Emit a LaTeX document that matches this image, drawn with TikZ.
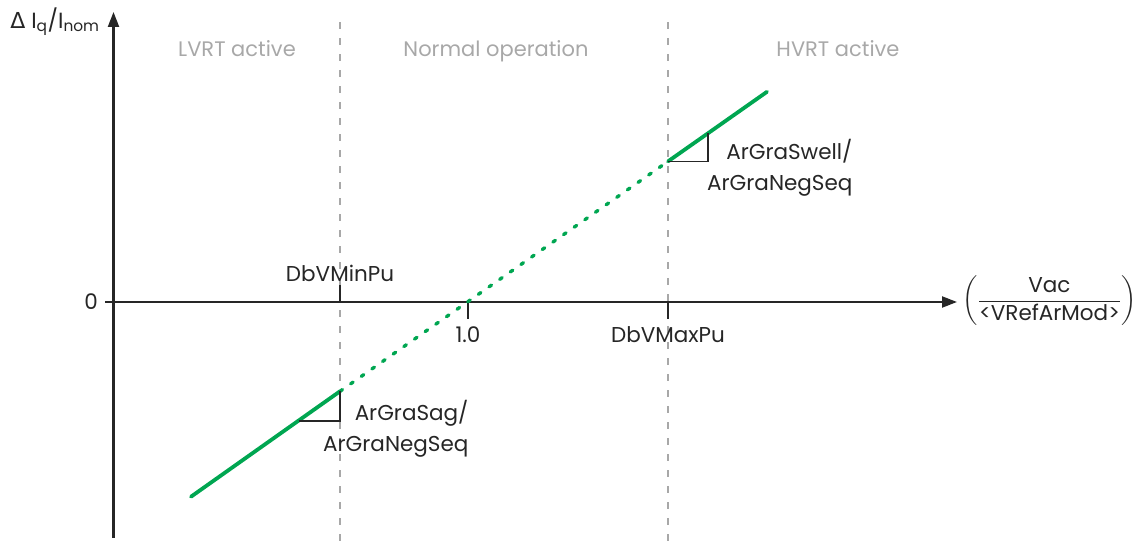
\documentclass[tikz,border=0pt]{standalone}
\usepackage{amsmath, fontspec}
\setmainfont{Poppins}
\newfontfamily\greekfont{DejaVu Sans}
\usetikzlibrary{arrows.meta, calc}
\definecolor{smagreen}{RGB}{0,166,81}
\definecolor{regiongray}{RGB}{168,168,168}

\begin{document}
\begin{tikzpicture}[x=1pt, y=1pt,
    every node/.style={font=\fontsize{21.5}{31}\selectfont, text=black!85},
    region/.style={text=regiongray, anchor=base, font=\fontsize{21}{25}\selectfont},
    axis/.style={line width=2.2pt, black!85, -{Triangle[length=15pt, width=11pt]}},
    tick/.style={line width=1.8pt, black!85},
    border/.style={line width=1.4pt, regiongray, dash pattern=on 7pt off 9pt},
    curve/.style={line width=3.8pt, smagreen, line cap=round},
    slope/.style={line width=1.4pt, black!85}]
    \useasboundingbox (0,0) rectangle (1141,541);
    % Origin Point
    \coordinate (O) at (113.5,239);
    % Region borders
    \foreach \x in {340,668}
    {
        \draw[border] (\x,0) -- (\x,527);
    }
    % Regions
    \node[region] (lvrt) at (237,484) {LVRT active};
    \node[region] (normal) at (496,484) {Normal operation};
    \node[region] (hvrt) at (838,484) {HVRT active};
    % Axes
    \coordinate (ybot) at (113.5,3);
    \coordinate (ytop) at (113.5,529);
    \coordinate (xleft) at (105,239);
    \coordinate (xright) at (957,239);
    \draw[axis] (ybot) -- (ytop);
    \draw[axis] (xleft) -- (xright);
    \node (ylabel) [font=\fontsize{22}{26}\selectfont] at (55,519)
        {{\greekfont Δ} I\textsubscript{q}/I\textsubscript{nom}};
    \node (xlabel) [anchor=west, font=\fontsize{21.5}{26}\selectfont] at (959,240)
        {$\left(\dfrac{\mbox{Vac}}{\mbox{<VRefArMod>}}\right)$};
    \node (zero) [anchor=east] at ($(O)+(-12,0)$) {0};
    % Tick marks
    \coordinate (minpu) at (340,239);
    \coordinate (one) at (468,239);
    \coordinate (maxpu) at (668,239);
    \draw[tick] (minpu) -- ++(0,17) coordinate (minputop);
    \draw[tick] (one) -- ++(0,-17) coordinate (onebot);
    \draw[tick] (maxpu) -- ++(0,-17) coordinate (maxpubot);
    \node (minpulabel) [above=0pt] at (minputop) {DbVMinPu};
    \node (onelabel) [below=4pt] at (onebot) {1.0};
    \node (maxpulabel) [below=4pt] at (maxpubot) {DbVMaxPu};
    % Characteristic curve
    \coordinate (c0) at (191,44.3);
    \coordinate (c1) at (340,149.7);
    \coordinate (c2) at (668,379.6);
    \coordinate (c3) at (767,449.2);
    \draw[curve] (c0) -- (c1);
    \draw[curve, line width=3.4pt, dash pattern=on 3pt off 10pt] (c1) -- (c2);
    \draw[curve] (c2) -- (c3);
    % Gradient triangles
    \draw[slope] (298.7,120) -- (340,120) -- (c1);
    \draw[slope] (c2) -- (708,379.6) -- (708,407.7);
    \node (sag) [anchor=east, align=right] at (472,112) {ArGraSag/\\ArGraNegSeq};
    \node (swell) [anchor=east, align=right] at (856,373) {ArGraSwell/\\ArGraNegSeq};
\end{tikzpicture}
\end{document}
